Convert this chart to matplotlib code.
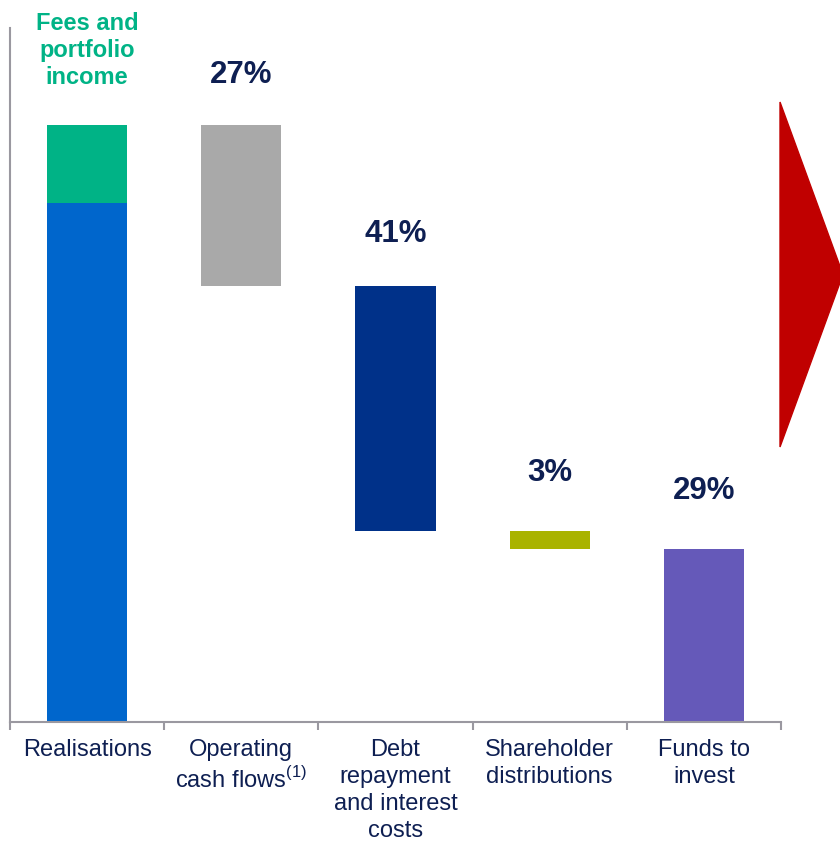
import matplotlib.pyplot as plt
from matplotlib.patches import Polygon

plt.rcParams['font.family'] = ['Liberation Sans', 'DejaVu Sans']

# uses of realisations, as % of total cash in
categories = ["Realisations", "Operating\ncash flows$^{\\mathregular{(1)}}$",
              "Debt\nrepayment\nand interest\ncosts", "Shareholder\ndistributions",
              "Funds to\ninvest"]
realisations = 87
fees_income = 13
uses = [27, 41, 3, 29]
use_labels = ["27%", "41%", "3%", "29%"]
use_colors = ["#a9a9a9", "#003189", "#a9b300", "#6559b9"]

navy = "#0e1f52"
green = "#00b386"
axis_grey = "#9a98a0"

fig = plt.figure(figsize=(8.4, 8.42), dpi=100)
ax = fig.add_axes([10 / 840, 1 - 722 / 842, 771 / 840, 694 / 842])

width = 0.52
x = range(len(categories))

# first bar: realisations plus fees stacked on top
ax.bar(0, realisations, width, color="#0066cc")
ax.bar(0, fees_income, width, bottom=realisations, color=green)
ax.text(0, realisations + fees_income + 6.1, "Fees and\nportfolio\nincome",
        ha="center", va="bottom", color=green, fontsize=17, fontweight="bold",
        linespacing=1.22)

# floating bars going down the waterfall
level = realisations + fees_income
offsets = [50, 52, 58, 58]
for i, (v, lab, c) in enumerate(zip(uses, use_labels, use_colors)):
    bottom = level - v
    if i == len(uses) - 1:
        bottom = 0
    ax.bar(i + 1, v, width, bottom=bottom, color=c)
    ax.annotate(lab, (i + 1, bottom + v), xytext=(0, offsets[i] * 0.72),
                textcoords="offset points", ha="center", va="center",
                color=navy, fontsize=22.5, fontweight="bold")
    level = bottom

ax.set_xlim(-0.5, 4.5)
ax.set_ylim(0, 116.3)
ax.set_yticks([])
ax.set_xticks(list(x))
ax.set_xticklabels(categories, fontsize=17, color=navy, linespacing=1.28)
ax.tick_params(axis="x", which="major", length=0, pad=12.5)
ax.set_xticks([i - 0.5 for i in range(len(categories) + 1)], minor=True)
ax.tick_params(axis="x", which="minor", length=6, width=1.5, color=axis_grey,
               direction="out")
for side in ["top", "right"]:
    ax.spines[side].set_visible(False)
for side in ["left", "bottom"]:
    ax.spines[side].set_color(axis_grey)
    ax.spines[side].set_linewidth(1.5)

# red arrow head on the right edge
arrow = Polygon([(780 / 840, 1 - 102 / 842), (843 / 840, 1 - 274.5 / 842),
                 (780 / 840, 1 - 447 / 842)], closed=True,
                transform=fig.transFigure, color="#c00000", clip_on=False)
fig.patches.append(arrow)

fig.savefig("out.png", dpi=100)
